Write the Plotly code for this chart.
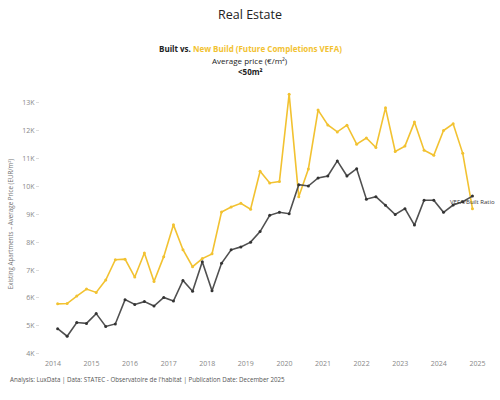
import plotly.graph_objects as go
import pandas as pd

# quarters 2014Q1 .. 2024Q4, plotted at mid-quarter
quarters = pd.period_range("2014Q1", "2024Q4", freq="Q")
dates = [q.start_time + pd.Timedelta(days=45) for q in quarters]

# average price EUR/m2, apartments < 50m2
built = [4900, 4630, 5120, 5090, 5440, 4980, 5070, 5940,
         5770, 5870, 5710, 6020, 5890, 6630, 6240, 7300,
         6260, 7240, 7725, 7830, 8000, 8380, 8960, 9070,
         9020, 10060, 10010, 10300, 10370, 10910, 10370, 10630,
         9540, 9630, 9320, 8990, 9200, 8610, 9500, 9500,
         9070, 9330, 9450, 9650]
vefa = [5790, 5800, 6070, 6320, 6200, 6640, 7370, 7390,
        6750, 7610, 6590, 7480, 8620, 7730, 7120, 7410,
        7580, 9080, 9260, 9390, 9180, 10540, 10120, 10170,
        13300, 9630, 10620, 12730, 12200, 11950, 12190, 11510,
        11730, 11390, 12810, 11250, 11440, 12300, 11290, 11110,
        12000, 12240, 11180, 9200]

yticks = [4000, 5000, 6000, 7000, 8000, 9000, 10000, 11000, 12000, 13000]
ytick_labels = ["4K", "5K", "6K", "7K", "8K", "9K", "10K", "11K", "12K", "13K"]
years = list(range(2014, 2026))

YELLOW = "#F2C231"
DARK = "#505050"

fig = go.Figure()

fig.add_trace(go.Scatter(
    x=dates, y=vefa, mode="lines+markers", name="VEFA",
    line=dict(color=YELLOW, width=1.6),
    marker=dict(color=YELLOW, size=3),
))
fig.add_trace(go.Scatter(
    x=dates, y=built, mode="lines+markers", name="Built",
    line=dict(color=DARK, width=1.6),
    marker=dict(color="#333333", size=3),
))

# small label at the end of the series
fig.add_annotation(
    x=dates[-1], y=built[-1], text="VEFA/Built Ratio", showarrow=False,
    yshift=-6, font=dict(size=6, color="#333333"),
)

# subtitle block, centred on the page (not on the plot area)
subtitle = [
    ("<b>Built vs. <span style='color:%s'>New Build (Future Completions VEFA)</span></b>" % YELLOW, 1.183),
    ("Average price (€/m²)", 1.139),
    ("<b>&lt;50m²</b>", 1.097),
]
for txt, yy in subtitle:
    fig.add_annotation(text=txt, x=0.4667, y=yy, xref="paper", yref="paper",
                       showarrow=False, font=dict(size=8, color="#222222"))

fig.add_annotation(
    text="Analysis: LuxData | Data: STATEC - Observatoire de l'habitat | Publication Date: December 2025",
    x=-0.072, y=-0.08, xref="paper", yref="paper", xanchor="left", yanchor="middle",
    showarrow=False, font=dict(size=6.2, color="#555555"),
)

fig.update_layout(
    width=500, height=400,
    margin=dict(l=40, r=10, t=90, b=41.5),
    paper_bgcolor="white", plot_bgcolor="white",
    font=dict(family="Open Sans", color="#888888"),
    showlegend=False,
    title=dict(text="Real Estate", x=0.5, xanchor="center",
               y=0.9625, yref="container", yanchor="middle",
               font=dict(size=12.5, color="#222222")),
    xaxis=dict(
        type="date", range=["2013-09-01", "2025-04-30"],
        tickvals=[pd.Timestamp(year=y, month=1, day=1) for y in years],
        ticktext=[str(y) for y in years],
        showgrid=False, zeroline=False, showline=False,
        tickfont=dict(size=7, color="#888888"),
    ),
    yaxis=dict(
        range=[3850, 13450], tickvals=yticks, ticktext=ytick_labels,
        showgrid=False, zeroline=False, showline=False,
        ticks="outside", ticklen=3, tickcolor="#dddddd",
        tickfont=dict(size=7, color="#888888"),
        title=dict(text="Existing Apartments – Average Price (EUR/m²)",
                   font=dict(size=6.2, color="#777777"), standoff=8),
    ),
)

# drop the default page margin so the chart sits at the window's corner
fig.write_html("out.html", config={"displayModeBar": False},
               post_script="document.body.style.margin='0';")
